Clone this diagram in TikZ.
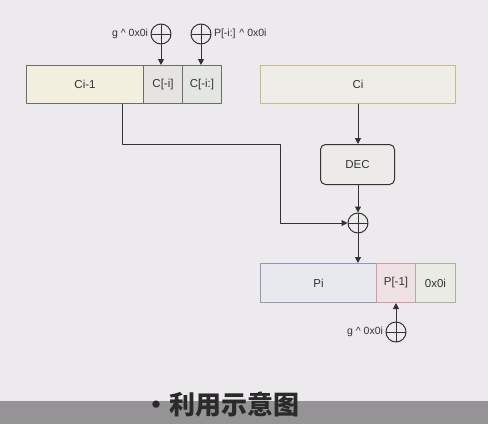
\documentclass[tikz,border=0pt]{standalone}
\usepackage{fontspec}
\setmainfont{Liberation Sans}
\newfontfamily\cjk{Noto Sans CJK SC}
\usetikzlibrary{arrows.meta}
\definecolor{bg}{HTML}{ECEAEC}
\definecolor{band}{HTML}{959395}
\definecolor{ink}{HTML}{333333}
\definecolor{prevfill}{HTML}{F2EFDF}
\definecolor{lastfill}{HTML}{E6E3E3}
\definecolor{tailfill}{HTML}{E4E6E2}
\definecolor{ciline}{HTML}{C9B98A}
\definecolor{cifill}{HTML}{EEEDE8}
\definecolor{decfill}{HTML}{ECEBEA}
\definecolor{piline}{HTML}{8F9AB5}
\definecolor{pifill}{HTML}{E7E9EF}
\definecolor{plline}{HTML}{CF9AA2}
\definecolor{plfill}{HTML}{F0E2E4}
\definecolor{padline}{HTML}{A9B39C}
\definecolor{padfill}{HTML}{E9EBE4}
\definecolor{titleink}{HTML}{2A2A2A}

\begin{document}
\begin{tikzpicture}[x=1pt,y=-1pt,line cap=round,line join=round,>={Triangle[length=6pt,width=6pt]},
  cell/.style={draw=gray!85!black,line width=1pt,anchor=north west,minimum height=38pt,inner sep=0pt,font=\fontsize{11.5}{13}\selectfont,text=ink},
  xor/.style={circle,draw=ink,line width=1pt,minimum size=20pt,inner sep=0pt,
    path picture={\draw[ink,line width=1pt] (path picture bounding box.north) -- (path picture bounding box.south)
      (path picture bounding box.west) -- (path picture bounding box.east);}},
  lbl/.style={font=\fontsize{10.5}{12}\selectfont,text=ink,inner sep=1pt},
  every path/.style={line width=1pt}]
  \fill[bg] (0,0) rectangle (488,424);
  \useasboundingbox (0,0) rectangle (488,424);
  % blocks
  \node[cell,fill=prevfill,minimum width=117pt] (cprev) at (26,65) {Ci-1};
  \node[cell,fill=lastfill,minimum width=39pt] (clast) at (143,65) {C[-i]};
  \node[cell,fill=tailfill,minimum width=39pt] (ctail) at (182,65) {C[-i:]};
  \node[cell,draw=ciline,fill=cifill,minimum width=195pt] (ci) at (260,65) {Ci};
  \node[cell,draw=ink,fill=decfill,rounded corners=5pt,minimum width=74pt,minimum height=40pt] (dec) at (320,144) {DEC};
  \node[cell,draw=piline,fill=pifill,minimum width=116pt,minimum height=39pt] (pi) at (260,263) {Pi};
  \node[cell,draw=plline,fill=plfill,minimum width=39pt,minimum height=39pt] (plast) at (376,263) {P[-1]};
  \node[cell,draw=padline,fill=padfill,minimum width=40pt,minimum height=39pt] (pad) at (415,263) {0x0i};
  % xor gates
  \node[xor] (xa) at (161,34) {};
  \node[xor] (xb) at (201,34) {};
  \node[xor] (xm) at (358,223) {};
  \node[xor] (xp) at (396,332) {};
  \node[lbl,anchor=east] (la) at ([xshift=-1pt]xa.west) {g \^{} 0x0i};
  \node[lbl,anchor=west] (lb) at ([xshift=1pt]xb.east) {P[-i:] \^{} 0x0i};
  \node[lbl,anchor=east] (lp) at ([xshift=-1pt]xp.west) {g \^{} 0x0i};
  % connectors
  \coordinate (turna) at (122,144);
  \coordinate (turnb) at (280,144);
  \draw[ink,->] (xa) -- (clast.north -| xa);
  \draw[ink,->] (xb) -- (ctail.north -| xb);
  \draw[ink,->] (ci.south -| xm) -- (dec.north -| xm);
  \draw[ink,->] (dec.south -| xm) -- (xm);
  \draw[ink,->] (xm) -- (pi.north -| xm);
  \draw[ink,->] (cprev.south -| turna) -- (turna) -- (turnb) |- (xm);
  \draw[ink,->] (xp) -- (plast.south -| xp);
  % caption band
  \fill[band] (0,401) rectangle (488,424);
  \node[font=\cjk\bfseries\fontsize{26}{29}\selectfont,text=titleink,inner sep=0pt] (title) at (221,405) {·利用示意图};
\end{tikzpicture}
\end{document}
